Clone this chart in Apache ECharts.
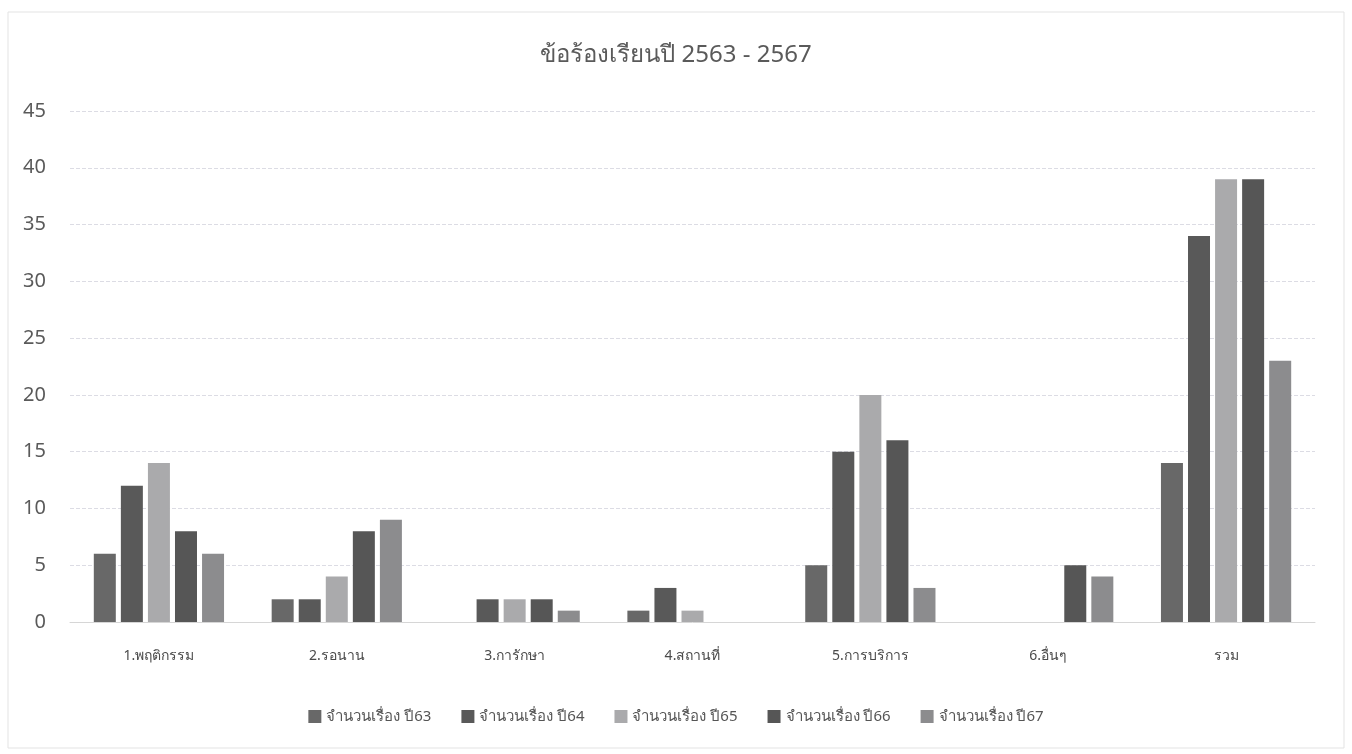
<!DOCTYPE html>
<html>
<head>
<meta charset="utf-8">
<script src="https://cdn.jsdelivr.net/npm/echarts@6/dist/echarts.min.js"></script>
<style>
  html, body { margin: 0; padding: 0; background: #fff; }
  #chart_main { width: 1352px; height: 754px; }
</style>
</head>
<body>
<div id="chart_main"></div>
<script>
var categories = ['1.พฤติกรรม', '2.รอนาน', '3.การักษา', '4.สถานที่', '5.การบริการ', '6.อื่นๆ', 'รวม']
var seriesNames = ['จำนวนเรื่อง ปี63', 'จำนวนเรื่อง ปี64', 'จำนวนเรื่อง ปี65', 'จำนวนเรื่อง ปี66', 'จำนวนเรื่อง ปี67']
var y63 = [6, 2, 0, 1, 5, 0, 14]
var y64 = [12, 2, 2, 3, 15, 0, 34]
var y65 = [14, 4, 2, 1, 20, 0, 39]
var y66 = [8, 8, 2, 0, 16, 5, 39]
var y67 = [6, 9, 1, 0, 3, 4, 23]
var colors = ['#686868', '#595959', '#aaaaac', '#565656', '#8c8c8e']

var chart = echarts.init(document.getElementById('chart_main'))
var allData = [y63, y64, y65, y66, y67]
var series = allData.map(function (d, i) {
  return {
    name: seriesNames[i],
    type: 'bar',
    data: d,
    barWidth: 22,
    barGap: '23%',
    itemStyle: { color: colors[i] }
  }
})

chart.setOption({
  textStyle: { fontFamily: '"Noto Sans", sans-serif' },
  graphic: [{
    type: 'rect',
    shape: { x: 8, y: 12, width: 1336, height: 736 },
    style: { fill: 'none', stroke: '#e3e3e3', lineWidth: 1 }
  }],
  title: {
    text: 'ข้อร้องเรียนปี 2563 - 2567',
    left: 'center',
    top: 38,
    textStyle: { fontSize: 24, fontWeight: 'normal', color: '#5a5a5a' }
  },
  legend: {
    bottom: 25,
    itemWidth: 13,
    itemHeight: 13,
    itemGap: 30,
    icon: 'rect',
    textStyle: { fontSize: 15, color: '#555' },
    data: seriesNames
  },
  grid: {
    left: 70,
    right: 37,
    top: 111,
    bottom: 132,
    containLabel: false
  },
  xAxis: {
    type: 'category',
    data: categories,
    axisLine: { lineStyle: { color: '#d6d6d6' } },
    axisTick: { show: false },
    axisLabel: { fontSize: 14, color: '#4a4a4a', margin: 27 }
  },
  yAxis: {
    type: 'value',
    min: 0,
    max: 45,
    interval: 5,
    axisLine: { show: false },
    axisTick: { show: false },
    axisLabel: { fontSize: 20, color: '#5a5a5a', margin: 24 },
    splitLine: { lineStyle: { color: '#dcdce4', type: 'dashed' } }
  },
  series: series
})
</script>
</body>
</html>
